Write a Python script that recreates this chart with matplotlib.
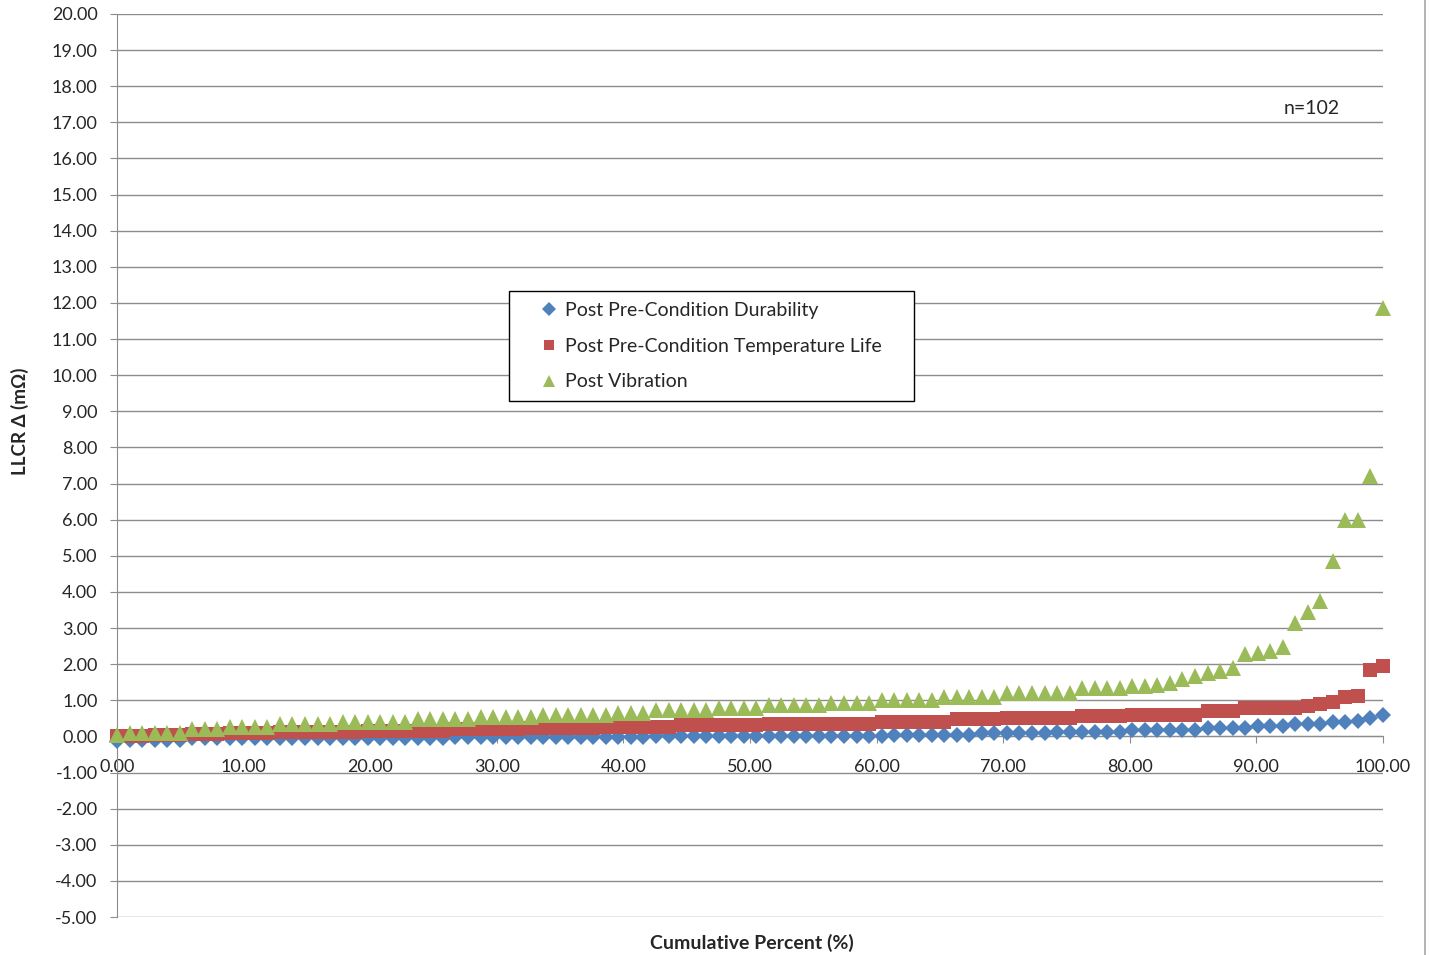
"""
LLCR 变化量累积分布图
"""

import numpy as np
import matplotlib
matplotlib.use("Agg")
import matplotlib.pyplot as plt
from matplotlib.lines import Line2D
from matplotlib.ticker import FormatStrFormatter, MultipleLocator


# ====================== 数据 ======================
N_SAMPLES = 102

durability = [
    -0.13,
    -0.09, -0.09, -0.09, -0.09, -0.09,
    -0.05, -0.05, -0.05, -0.05, -0.05, -0.05, -0.05, -0.05, -0.05, -0.05, -0.05,
    -0.05, -0.05, -0.05, -0.05, -0.05, -0.05, -0.05, -0.05, -0.05, -0.05,
    -0.02, -0.02, -0.02, -0.02, -0.02, -0.02, -0.02, -0.02, -0.02, -0.02, -0.02,
    -0.02, -0.02, -0.02, -0.02, -0.02,
    0.02, 0.02, 0.02, 0.02, 0.02, 0.02, 0.02, 0.02, 0.02, 0.02, 0.02, 0.02,
    0.02, 0.02, 0.02, 0.02, 0.02, 0.02, 0.02,
    0.05, 0.05, 0.05, 0.05, 0.05, 0.05, 0.05,
    0.09, 0.09, 0.09, 0.09, 0.09, 0.09,
    0.13, 0.13, 0.13, 0.13, 0.13, 0.13,
    0.18, 0.18, 0.18, 0.18, 0.18, 0.18,
    0.23, 0.23, 0.23, 0.23,
    0.28, 0.28, 0.28,
    0.34, 0.34, 0.34,
    0.40, 0.40,
    0.44, 0.50, 0.60,
]

temperature_life = [
    0.00, 0.00, 0.00,
    0.03, 0.03, 0.03,
    0.07, 0.07, 0.07,
    0.10, 0.10, 0.10, 0.10,
    0.13, 0.13, 0.13, 0.13, 0.13, 0.13, 0.13,
    0.16, 0.16, 0.16, 0.16, 0.16, 0.16, 0.16,
    0.20, 0.20, 0.20, 0.20, 0.20, 0.20,
    0.23, 0.23, 0.23, 0.23, 0.23, 0.23,
    0.27, 0.27, 0.27, 0.27, 0.27, 0.27,
    0.31, 0.31, 0.31, 0.31, 0.31, 0.31, 0.31,
    0.34, 0.34, 0.34, 0.34, 0.34, 0.34, 0.34, 0.34, 0.34,
    0.40, 0.40, 0.40, 0.40, 0.40, 0.40,
    0.47, 0.47, 0.47, 0.47,
    0.52, 0.52, 0.52, 0.52, 0.52, 0.52,
    0.56, 0.56, 0.56, 0.56,
    0.60, 0.60, 0.60, 0.60, 0.60, 0.60,
    0.70, 0.70, 0.70,
    0.78, 0.78, 0.78, 0.78,
    0.80, 0.83, 0.90, 0.96, 1.10, 1.13, 1.83, 1.96,
]

vibration = [
    0.04,
    0.10, 0.10, 0.10, 0.10, 0.10,
    0.20, 0.20, 0.20,
    0.27, 0.27, 0.27, 0.27,
    0.34, 0.34, 0.34, 0.34, 0.34,
    0.40, 0.40, 0.40, 0.40, 0.40, 0.40,
    0.47, 0.47, 0.47, 0.47, 0.47,
    0.53, 0.53, 0.53, 0.53, 0.53,
    0.58, 0.58, 0.58, 0.58, 0.58, 0.58,
    0.65, 0.65, 0.65,
    0.73, 0.73, 0.73, 0.73, 0.73,
    0.79, 0.79, 0.79, 0.79,
    0.86, 0.86, 0.86, 0.86, 0.86,
    0.93, 0.93, 0.93, 0.93,
    1.00, 1.00, 1.00, 1.00, 1.00,
    1.08, 1.08, 1.08, 1.08, 1.08,
    1.20, 1.20, 1.20, 1.20, 1.20, 1.20,
    1.33, 1.33, 1.33, 1.33,
    1.40, 1.40,
    1.43, 1.48, 1.60, 1.66, 1.75, 1.80, 1.90, 2.27, 2.32, 2.37,
    2.47, 3.15, 3.45, 3.75, 4.85, 6.00, 6.00, 7.20, 11.85,
]

series_labels = [
    "Post Pre-Condition Durability",
    "Post Pre-Condition Temperature Life",
    "Post Vibration",
]

# 累积百分比 = 排名 / (n - 1) * 100
rank = np.arange(N_SAMPLES)
cum_percent = rank / (N_SAMPLES - 1) * 100

# ====================== 样式 ======================
plt.rcParams['font.family'] = ['Lato', 'DejaVu Sans']
GRID_COLOR = '#8c8c8c'
TEXT_COLOR = '#262626'

fig = plt.figure(figsize=(14.29, 9.55), dpi=100)
ax = fig.add_axes([117 / 1429, 1 - 917 / 955, (1383 - 117) / 1429, (917 - 14) / 955])

ax.plot(cum_percent, durability, linestyle='none', marker='D', ms=8.5,
        color='#4F81BD', mew=0, clip_on=False, label=series_labels[0], zorder=3)
ax.plot(cum_percent, temperature_life, linestyle='none', marker='s', ms=9.5,
        color='#C0504D', mew=0, clip_on=False, label=series_labels[1], zorder=4)
ax.plot(cum_percent, vibration, linestyle='none', marker='^', ms=11.5,
        color='#9BBB59', mew=0, clip_on=False, label=series_labels[2], zorder=5)

ax.set_xlim(0, 100)
ax.set_ylim(-5, 20)
ax.yaxis.set_major_locator(MultipleLocator(1))
ax.xaxis.set_major_locator(MultipleLocator(10))
ax.yaxis.set_major_formatter(FormatStrFormatter('%.2f'))
ax.xaxis.set_major_formatter(FormatStrFormatter('%.2f'))

ax.grid(axis='y', color=GRID_COLOR, linewidth=1)
ax.set_axisbelow(True)

for side in ['top', 'right']:
    ax.spines[side].set_visible(False)
ax.spines['left'].set_color(GRID_COLOR)
ax.spines['bottom'].set_color(GRID_COLOR)
ax.spines['bottom'].set_position(('data', 0))

ax.tick_params(axis='y', direction='out', length=5, color=GRID_COLOR,
               labelsize=13, labelcolor=TEXT_COLOR, pad=9)
ax.tick_params(axis='x', direction='out', length=5, color=GRID_COLOR,
               labelsize=13, labelcolor=TEXT_COLOR, pad=11)

fig.text(20 / 1429, 1 - 421 / 955, 'LLCR Δ (mΩ)', rotation=90, ha='center', va='center',
         fontsize=13.5, fontweight='bold', color=TEXT_COLOR)
fig.text(752 / 1429, 1 - 943 / 955, 'Cumulative Percent (%)', ha='center', va='center',
         fontsize=14, fontweight='bold', color=TEXT_COLOR)
ax.text(1312 / 1429, 1 - 109 / 955, 'n=102', transform=fig.transFigure, ha='center',
        va='center', fontsize=14, color=TEXT_COLOR)

# 图例框: 左 509, 右 914, 上 291, 下 400 (像素)
leg = ax.legend(loc='upper left',
                bbox_to_anchor=(509 / 1429, 1 - 400 / 955, 405 / 1429, 109 / 955),
                bbox_transform=fig.transFigure, mode='expand', fontsize=14,
                markerscale=0.8, frameon=True, fancybox=False, edgecolor='black',
                framealpha=1, handlelength=3.0, handletextpad=-0.65, labelspacing=0.97,
                borderpad=0.55, borderaxespad=0)
leg.get_frame().set_linewidth(1)
for t in leg.get_texts():
    t.set_color(TEXT_COLOR)

# 图表区右侧边框
fig.add_artist(Line2D([1425 / 1429, 1425 / 1429], [0, 1], color='#a6a6a6', linewidth=1.2))

fig.savefig('out.png', dpi=100)
